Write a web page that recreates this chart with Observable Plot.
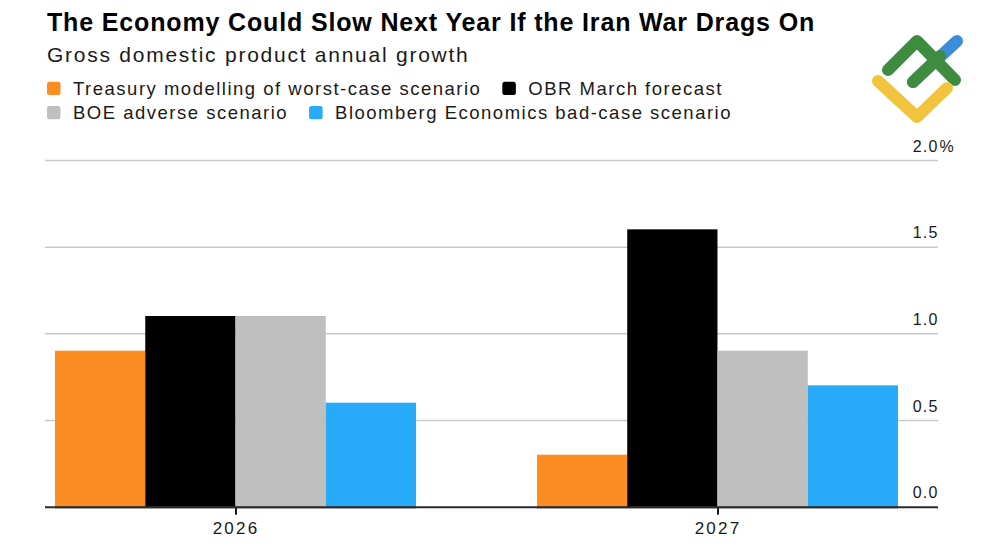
<!DOCTYPE html>
<html><head><meta charset="utf-8">
<script src="https://cdn.jsdelivr.net/npm/d3@7"></script>
<script src="https://cdn.jsdelivr.net/npm/@observablehq/plot@0.6"></script>
<style>
html,body{margin:0;padding:0;background:#fff;}
#wrap{position:relative;width:1000px;height:545px;overflow:hidden;font-family:"Liberation Sans",Arial,Helvetica,sans-serif;}
#header{position:absolute;left:0;top:0;}
#chart{position:absolute;left:0;top:130px;width:1000px;height:415px;}
#chart > svg{position:absolute;left:0;top:0;}
#logo{position:absolute;left:0;top:0;}
#chart text{letter-spacing:1.2px;}
#chart text.yearlabel{letter-spacing:2.2px;}
</style></head>
<body><div id="wrap"><svg id="header" width="1000" height="130"></svg><div id="chart"></div>
<svg id="logo" width="1000" height="130" fill="none" stroke-linecap="round" stroke-linejoin="round" stroke-width="12">
<path d="M913,82 L957,41" stroke="#3b8ddb"/>
<path d="M913,82 L940,56" stroke="#3d8c40"/>
<path d="M888,70 L917,41 L955,80" stroke="#3d8c40"/>
<path d="M878,81 L917,117 L947,88" stroke="#f2c33d"/>
</svg>
</div>
<script>
const FONT = '"Liberation Sans", Arial, Helvetica, sans-serif';
const title = "The Economy Could Slow Next Year If the Iran War Drags On";
const subtitle = "Gross domestic product annual growth";
const years = ["2026", "2027"];
const seriesNames = [
  "Treasury modelling of worst-case scenario",
  "OBR March forecast",
  "BOE adverse scenario",
  "Bloomberg Economics bad-case scenario"
];
const treasury = [0.9, 0.3];
const obr = [1.1, 1.6];
const boe = [1.1, 0.9];
const bloomberg = [0.6, 0.7];
const seriesColors = ["#fb8d22", "#000000", "#bfbfbf", "#27aaf8"];
const yTicks = [0, 0.5, 1, 1.5, 2];
const yTickLabels = ["0.0", "0.5", "1.0", "1.5", "2.0"];
const yUnit = "%";
const legendRows = [[0, 1], [2, 3]];

// Header: title, subtitle, legend
const NS = "http://www.w3.org/2000/svg";
const header = document.getElementById("header");
function addText(x, y, str, size, weight, ls, fill) {
  const t = document.createElementNS(NS, "text");
  t.setAttribute("x", x); t.setAttribute("y", y);
  t.setAttribute("font-family", FONT);
  t.setAttribute("font-size", size);
  if (weight) t.setAttribute("font-weight", weight);
  t.setAttribute("letter-spacing", ls);
  t.setAttribute("fill", fill || "#111");
  t.textContent = str;
  header.appendChild(t);
  return t;
}
addText(47, 30.7, title, 25, "bold", 0.85, "#000");
addText(47, 62, subtitle, 21, null, 1.75, "#1a1a1a");
const rowY = [95, 119.3];
legendRows.forEach((row, r) => {
  let x = 47;
  row.forEach(j => {
    const rect = document.createElementNS(NS, "rect");
    rect.setAttribute("x", x); rect.setAttribute("y", rowY[r] - 13.3);
    rect.setAttribute("width", 13.5); rect.setAttribute("height", 13.3);
    rect.setAttribute("rx", 2.5);
    rect.setAttribute("fill", seriesColors[j]);
    header.appendChild(rect);
    const t = addText(x + 26, rowY[r], seriesNames[j], 18.5, null, 1.5, "#1a1a1a");
    x = x + 26 + t.getComputedTextLength() + 21;
  });
});

// Chart
const values = [treasury, obr, boe, bloomberg];
const data = years.flatMap((year, i) => seriesNames.map((s, j) => ({year, series: s, value: values[j][i]})));

const dims = {width: 1000, height: 415, marginTop: 30, marginBottom: 38.3, marginLeft: 45, marginRight: 62};
const baseStyle = {fontFamily: FONT, fontSize: "17px", color: "#1a1a1a", background: "transparent", overflow: "visible"};
const yScale = {domain: [0, 2], axis: null};
const yearBand = {domain: years, paddingInner: 0.251, paddingOuter: 0.0519, align: 0.2, round: false};

// Layer 1: horizontal gridlines, baseline, year ticks/labels and right-hand value labels
const gridPlot = Plot.plot({
  ...dims,
  style: baseStyle,
  x: {...yearBand, type: "band", axis: null},
  y: yScale,
  marks: [
    Plot.ruleY(yTicks.filter(d => d > 0), {stroke: "#c9c9c9", strokeWidth: 1.5}),
    Plot.ruleX(years, {x: d => d, y1: 0, y2: 0, insetBottom: -8, stroke: "#1a1a1a", strokeWidth: 2}),
    Plot.text(years, {x: d => d, text: d => d, frameAnchor: "bottom", lineAnchor: "top", dy: 14.5, fontSize: 17, fill: "#1a1a1a"}),
    Plot.ruleY([0], {stroke: "#2a2a2a", strokeWidth: 2}),
    Plot.text(yTicks, {y: d => d, text: (d, i) => yTickLabels[i], frameAnchor: "right", textAnchor: "end", lineAnchor: "bottom", dy: -9, fontSize: 16, fill: "#1a1a1a"}),
    Plot.text([yTicks[yTicks.length - 1]], {y: d => d, text: () => yUnit, frameAnchor: "right", textAnchor: "start", lineAnchor: "bottom", dy: -9, dx: 1, fontSize: 16, fill: "#1a1a1a"})
  ]
});
gridPlot.querySelectorAll("text").forEach(t => { if (years.includes(t.textContent)) t.classList.add("yearlabel"); });

// Layer 2: grouped bars faceted by year
const barPlot = Plot.plot({
  ...dims,
  style: baseStyle,
  fx: {...yearBand, axis: null, label: null},
  x: {domain: seriesNames, padding: 0, round: false, axis: null},
  y: yScale,
  color: {domain: seriesNames, range: seriesColors},
  marks: [
    Plot.barY(data, {fx: "year", x: "series", y: "value", fill: "series"}),
    Plot.ruleY([0], {stroke: "#2a2a2a", strokeWidth: 2})
  ]
});

const holder = document.getElementById("chart");
holder.appendChild(gridPlot);
holder.appendChild(barPlot);
</script>
</body></html>
